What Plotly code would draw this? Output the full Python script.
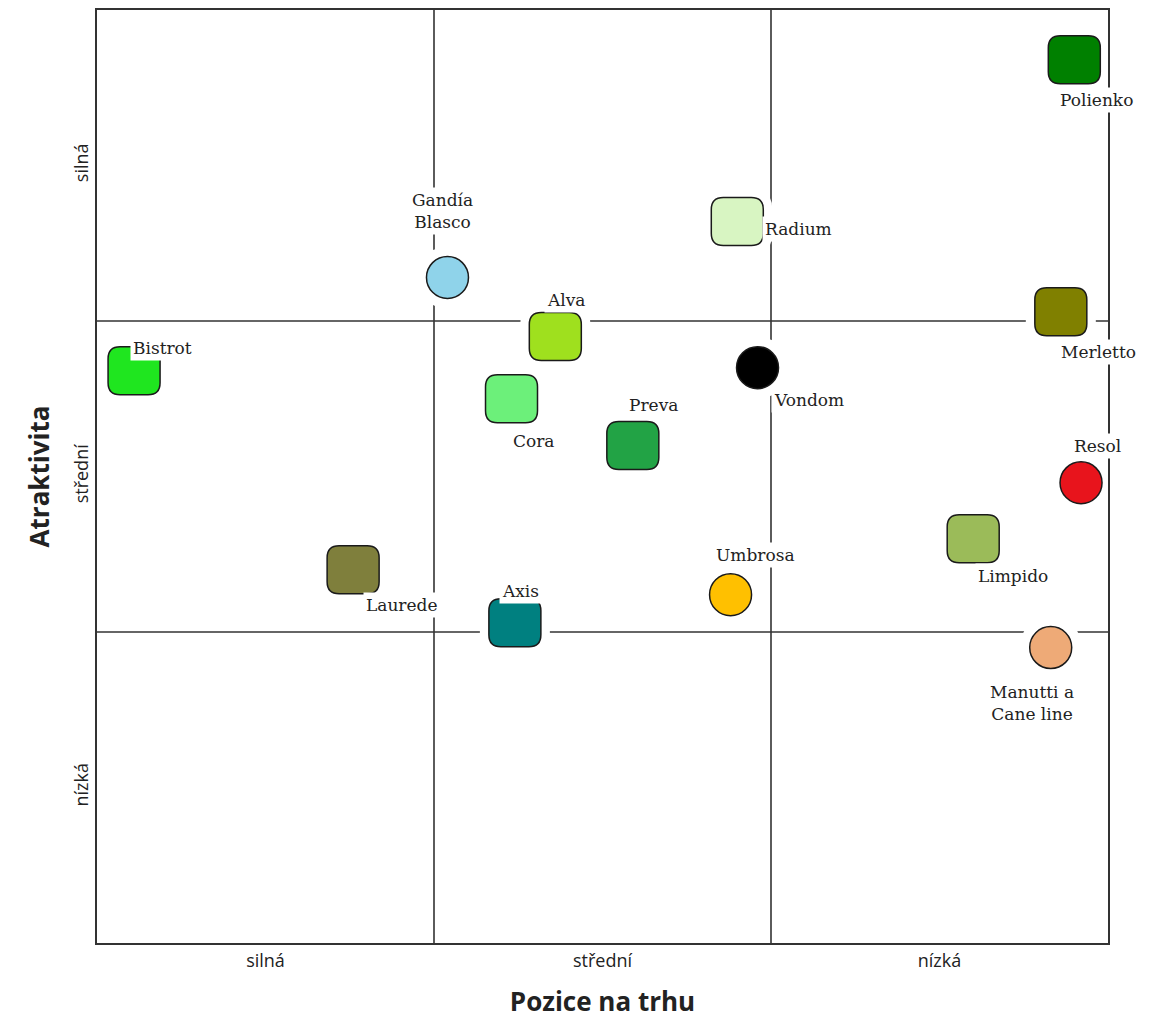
import plotly.graph_objects as go

# ---------------- data ----------------
names = ["Polienko", "Radium", "Gandía<br>Blasco", "Alva", "Bistrot", "Merletto",
         "Vondom", "Cora", "Preva", "Resol", "Limpido", "Laurede", "Umbrosa",
         "Axis", "Manutti a<br>Cane line"]
pos_x = [2.90, 1.90, 1.04, 1.36, 0.11, 2.86, 1.96, 1.23, 1.59, 2.92, 2.60, 0.76, 1.88, 1.24, 2.83]
attr_y = [2.84, 2.32, 2.14, 1.95, 1.84, 2.03, 1.85, 1.75, 1.60, 1.48, 1.30, 1.20, 1.12, 1.03, 0.95]
colors = ["#008000", "#d8f5c2", "#8fd3ea", "#9fe01e", "#1fe61f", "#808000",
          "#000000", "#6cf07a", "#22a345", "#e8141c", "#9bbb59", "#7f7f3c",
          "#ffc000", "#008080", "#eeaa77"]
symbols = ["square", "square", "circle", "square", "square", "square", "circle",
           "square", "square", "circle", "square", "square", "circle", "square", "circle"]
tick_vals = [0.5, 1.5, 2.5]
x_tick_text = ["silná", "střední", "nízká"]
y_tick_text = ["nízká", "střední", "silná"]
quadrant_lines = [1, 2]

# label offsets (pixels) relative to marker centre
label_dx = [22, 61, -5, 11, 28, 38, 51, 22, 21, 16, 40, 49, 25, 6, -19]
label_dy = [-40, -8, 66, 37, 23, -40, -32, -42, 40, 37, -37, -35, 40, 32, -55]

# ---------------- style ----------------
SQ_W, SQ_H, SQ_R = 52, 48, 12
CIRC_R = 21
HALO = 9
LINE_COL = "#333333"


def rrect(w, h, r):
    hw, hh = w / 2, h / 2
    return (f"M {-hw + r},{-hh} L {hw - r},{-hh} Q {hw},{-hh} {hw},{-hh + r} "
            f"L {hw},{hh - r} Q {hw},{hh} {hw - r},{hh} L {-hw + r},{hh} "
            f"Q {-hw},{hh} {-hw},{hh - r} L {-hw},{-hh + r} Q {-hw},{-hh} {-hw + r},{-hh} Z")


fig = go.Figure()
fig.add_trace(go.Scatter(x=pos_x, y=attr_y, mode="markers",
                         marker=dict(opacity=0), hoverinfo="text",
                         text=[n.replace("<br>", " ") for n in names], showlegend=False))

shapes = []
for v in quadrant_lines:
    shapes.append(dict(type="line", xref="x", yref="paper", x0=v, x1=v, y0=0, y1=1,
                       line=dict(color=LINE_COL, width=1.6), layer="above"))
    shapes.append(dict(type="line", xref="paper", yref="y", x0=0, x1=1, y0=v, y1=v,
                       line=dict(color=LINE_COL, width=1.6), layer="above"))

# white halos
for x, y, s in zip(pos_x, attr_y, symbols):
    if s == "square":
        path = rrect(SQ_W + 2 * HALO, SQ_H + 2 * HALO, SQ_R + HALO)
    else:
        path = rrect(2 * CIRC_R + 2 * HALO, 2 * CIRC_R + 2 * HALO, CIRC_R + HALO)
    shapes.append(dict(type="path", xref="x", yref="y", xsizemode="pixel", ysizemode="pixel",
                       xanchor=x, yanchor=y, path=path, fillcolor="white",
                       line=dict(width=0), layer="above"))

# markers
for x, y, s, c in zip(pos_x, attr_y, symbols, colors):
    if s == "square":
        shapes.append(dict(type="path", xref="x", yref="y", xsizemode="pixel", ysizemode="pixel",
                           xanchor=x, yanchor=y, path=rrect(SQ_W, SQ_H, SQ_R), fillcolor=c,
                           line=dict(color="#1a1a1a", width=1.5), layer="above"))
    else:
        shapes.append(dict(type="circle", xref="x", yref="y", xsizemode="pixel", ysizemode="pixel",
                           xanchor=x, yanchor=y, x0=-CIRC_R, x1=CIRC_R, y0=-CIRC_R, y1=CIRC_R,
                           fillcolor=c, line=dict(color="#1a1a1a", width=1.5), layer="above"))

annotations = []
for x, y, n, dx, dy in zip(pos_x, attr_y, names, label_dx, label_dy):
    annotations.append(dict(x=x, y=y, xref="x", yref="y", text=n, showarrow=False,
                            xshift=dx, yshift=dy, bgcolor="white", borderpad=2,
                            font=dict(family="DejaVu Serif", size=17, color="#222222")))

fig.update_layout(
    width=1171, height=1023,
    margin=dict(l=97, r=63, t=8, b=80),
    paper_bgcolor="white", plot_bgcolor="white",
    shapes=shapes, annotations=annotations,
    showlegend=False,
    xaxis=dict(range=[0, 3], showgrid=False, zeroline=False, showline=True, mirror=True,
               linecolor=LINE_COL, linewidth=2, tickvals=tick_vals, ticktext=x_tick_text,
               ticks="", tickfont=dict(family="Open Sans", size=18, color="#222222"),
               title=dict(text="Pozice na trhu", standoff=22,
                          font=dict(family="Open Sans", size=26, color="#222222", weight="bold"))),
    yaxis=dict(range=[0, 3], showgrid=False, zeroline=False, showline=True, mirror=True,
               linecolor=LINE_COL, linewidth=2, tickvals=tick_vals, ticktext=y_tick_text,
               ticks="", tickangle=-90,
               tickfont=dict(family="Open Sans", size=18, color="#222222"),
               title=dict(text="Atraktivita", standoff=12,
                          font=dict(family="Open Sans", size=26, color="#222222", weight="bold"))),
)

fig.write_html("out.html")
